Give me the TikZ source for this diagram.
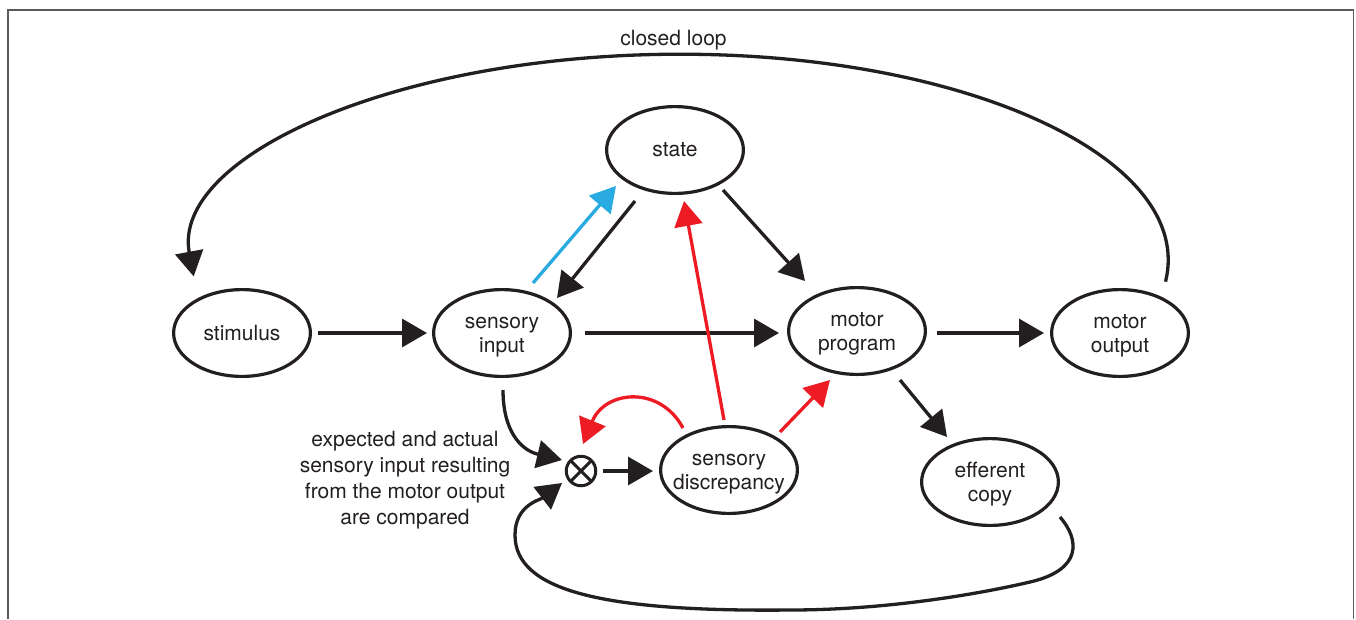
\documentclass[tikz,border=0pt]{standalone}
\usepackage{fontspec}
\setmainfont{TeX Gyre Heros}
\usetikzlibrary{arrows.meta,shapes.geometric}
\definecolor{ink}{HTML}{231F20}
\definecolor{redarr}{HTML}{ED1C24}
\definecolor{bluearr}{HTML}{29ABE2}
\newcommand{\twol}[2]{\makebox[0pt]{\raisebox{-2.5pt}[\height][\depth]{\begin{tabular}{@{}c@{}}#1\\#2\end{tabular}}}}
\begin{document}
\begin{tikzpicture}[x=1pt,y=-1pt,
  ell/.style={ellipse, draw=ink, line width=3.2pt, minimum width=136.8pt,
    minimum height=86.8pt, inner sep=0pt, text=ink,
    font=\fontsize{21}{24.5}\selectfont},
  arr/.style={line width=3.3pt, color=ink, -{Triangle[length=25pt,width=28pt]}},
  redarrow/.style={arr, color=redarr},
  bluearrow/.style={arr, color=bluearr},
  lbl/.style={text=ink, align=center, inner sep=0pt, font=\fontsize{21}{26}\selectfont},
  frame/.style={draw=black!65, line width=1.6pt}
]
\useasboundingbox (0,0) rectangle (1356,619);
\draw[frame] (8,619) -- (8,10) -- (1353.3,10) -- (1353.3,619);

% nodes
\node[ell] (stim)  at (242,333) {\makebox[0pt]{stimulus}};
\node[ell] (si)    at (502,333) {\twol{sensory}{input}};
\node[ell] (state) at (675,150) {\makebox[0pt]{state}};
\node[ell] (mp)    at (857,331) {\twol{motor}{program}};
\node[ell] (mo)    at (1120,333) {\twol{motor}{output}};
\node[ell] (sd)    at (729,470) {\twol{sensory}{discrepancy}};
\node[ell] (ec)    at (990,482) {\twol{efferent}{copy}};
\node[circle, draw=ink, line width=3pt, minimum size=29.5pt, inner sep=0pt, outer sep=0pt] (ot) at (581,471) {};
\draw[ink, line width=3pt] (ot.45) -- (ot.225) (ot.135) -- (ot.-45);

\node[lbl] (note) at (405,480) {expected and actual\\sensory input resulting\\from the motor output\\are compared};
\node[lbl] (cl) at (673.5,40.5) {closed loop};

% straight black arrows
\draw[arr, shorten <=6pt, shorten >=5pt] (stim.east) -- (si.west);
\draw[arr, shorten <=13pt, shorten >=8pt] (si.east) -- (si.east -| mp.west);
\draw[arr, shorten <=10pt, shorten >=6pt] (mo.west -| mp.east) -- (mo.west);
\draw[arr] ([shift={(48,40)}]state.center) -- ([shift={(-52,-50)}]mp.center);
\draw[arr] ([shift={(-40,51)}]state.center) -- ([shift={(55,-35)}]si.center);
\draw[arr] ([shift={(43,49)}]mp.center) -- ([shift={(-43,-45)}]ec.center);
\draw[arr, shorten <=7.5pt, shorten >=6pt] (ot.east) -- (ot.east -| sd.west);

% blue
\draw[bluearrow] ([shift={(31,-50)}]si.center) -- ([shift={(-59,36)}]state.center);

% red
\draw[redarrow] ([shift={(-5,-50)}]sd.center) -- ([shift={(9,51)}]state.center);
\draw[redarrow] ([shift={(51,-38)}]sd.center) -- ([shift={(-27,49)}]mp.center);
\draw[redarrow] ([shift={(-46,-42)}]sd.center) .. controls +(-23,-43) and +(22,-54) .. ([shift={(2,-27)}]ot.center);

% curved black arrows
\draw[arr] ([shift={(1,57)}]si.center) .. controls +(0,40) and +(-42,-10) .. ([shift={(-19,-11)}]ot.center);
\draw[arr] ([shift={(70,35)}]ec.center) .. controls +(20,23) and (1082,570) .. (1030,582)
  .. controls (970,596) and (880,610) .. (790,610)
  .. controls (600,612) and (515,590) .. (515,535)
  .. controls (515,505) and (540,500) .. ([shift={(-19,12)}]ot.center);
\draw[arr] ([shift={(45.5,-51.3)}]mo.center) .. controls (1195.8,160.1) and (969.9,54.2) .. (680.2,54.2)
  .. controls (395.6,54.2) and (171.4,156.6) .. ([shift={(-48.3,-56.6)}]stim.center);
\end{tikzpicture}
\end{document}
